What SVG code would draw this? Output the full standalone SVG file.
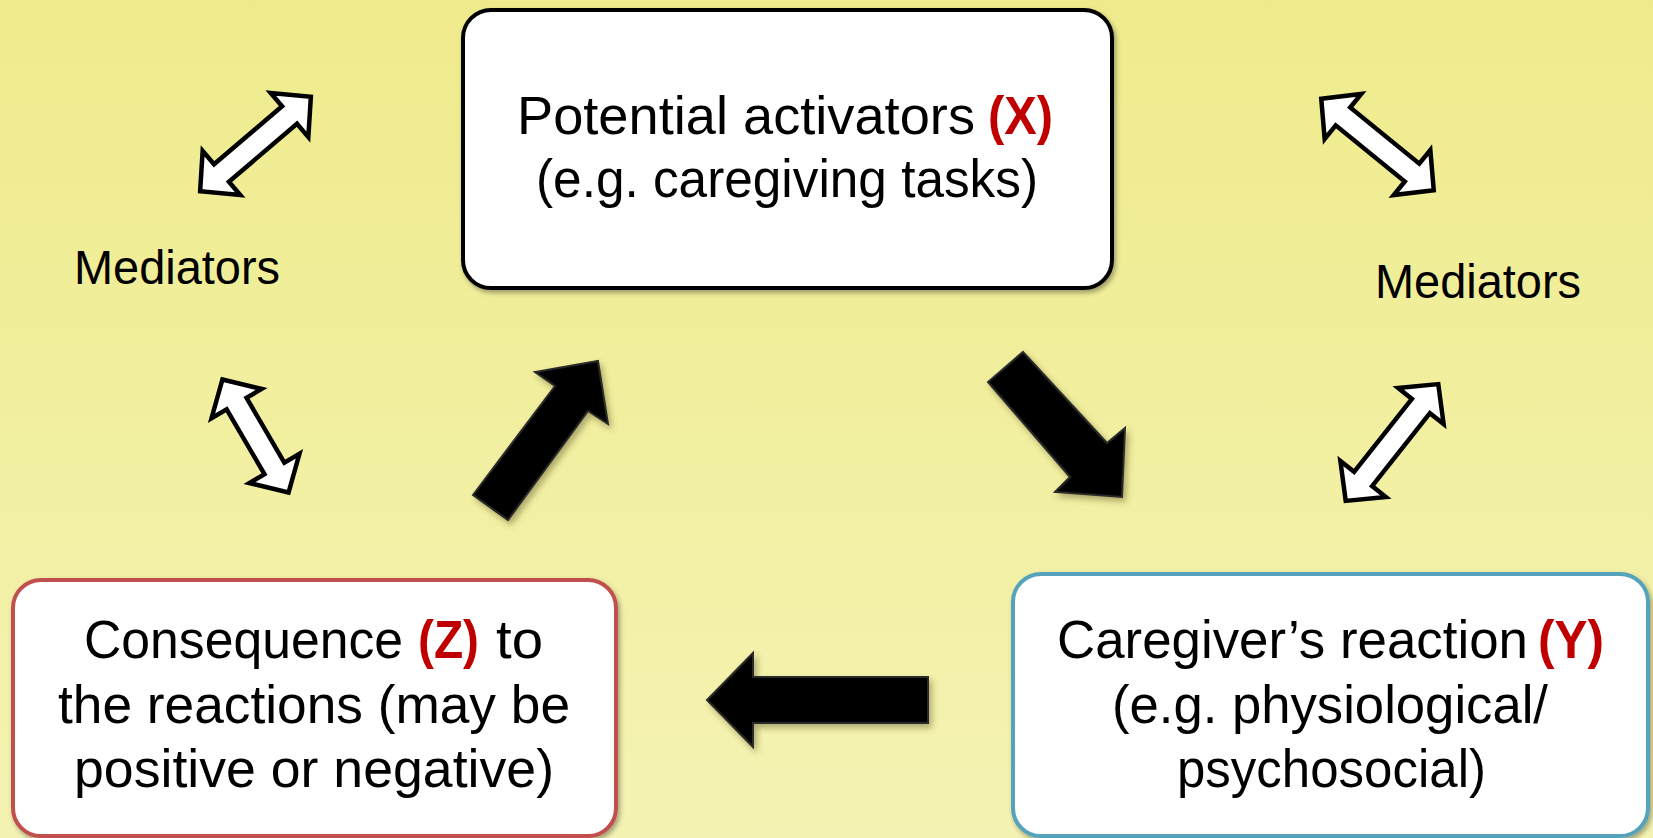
<svg xmlns="http://www.w3.org/2000/svg" width="1653" height="838" viewBox="0 0 1653 838">
<defs>
<linearGradient id="bg" x1="0" y1="0" x2="0" y2="1">
<stop offset="0" stop-color="#efeb8c"/>
<stop offset="1" stop-color="#f4f3b3"/>
</linearGradient>
<filter id="sh" x="-10%" y="-10%" width="130%" height="130%">
<feDropShadow dx="2" dy="3" stdDeviation="2.5" flood-color="#000" flood-opacity="0.35"/>
</filter>
<filter id="ash" x="-20%" y="-20%" width="150%" height="150%">
<feDropShadow dx="3" dy="4" stdDeviation="3" flood-color="#5a5520" flood-opacity="0.45"/>
</filter>
<style>
.box{fill:#fff;stroke-width:4}
.bt{font-family:"Liberation Sans","DejaVu Sans",sans-serif;font-size:53px;fill:#000}
.red{fill:#c00000;font-weight:bold}
.med{font-family:"Liberation Sans",Arial,sans-serif;font-size:48px;fill:#000}
.blk{fill:#060606;stroke:#2a2a2a;stroke-width:2;stroke-linejoin:miter;filter:url(#ash)}
.wht{fill:#fff;stroke:#000;stroke-width:4.5;stroke-linejoin:miter;stroke-miterlimit:10}
</style>
</defs>
<rect x="0" y="0" width="1653" height="838" fill="url(#bg)"/>

<g id="node-activators">
<rect class="box" x="463" y="10" width="649" height="278" rx="28" ry="28" stroke="#000" filter="url(#sh)"/>
<text class="bt" x="517" y="134" textLength="458" lengthAdjust="spacingAndGlyphs">Potential activators</text>
<text class="bt red" x="988" y="134" textLength="65" lengthAdjust="spacingAndGlyphs">(X)</text>
<text class="bt" x="536" y="197" textLength="502" lengthAdjust="spacingAndGlyphs">(e.g. caregiving tasks)</text>
</g>

<g id="node-reaction">
<rect class="box" x="1013" y="574" width="635" height="262" rx="28" ry="28" stroke="#55a3bb" filter="url(#sh)"/>
<text class="bt" x="1057" y="658" textLength="471" lengthAdjust="spacingAndGlyphs">Caregiver’s reaction</text>
<text class="bt red" x="1538" y="658" textLength="66" lengthAdjust="spacingAndGlyphs">(Y)</text>
<text class="bt" x="1112" y="723" textLength="436" lengthAdjust="spacingAndGlyphs">(e.g. physiological/</text>
<text class="bt" x="1177" y="787" textLength="309" lengthAdjust="spacingAndGlyphs">psychosocial)</text>
</g>

<g id="node-consequence">
<rect class="box" x="13" y="580" width="603" height="256" rx="28" ry="28" stroke="#c0504d" filter="url(#sh)"/>
<text class="bt" x="84" y="658" textLength="319" lengthAdjust="spacingAndGlyphs">Consequence</text>
<text class="bt red" x="418" y="658" textLength="61" lengthAdjust="spacingAndGlyphs">(Z)</text>
<text class="bt" x="496" y="658" textLength="47" lengthAdjust="spacingAndGlyphs">to</text>
<text class="bt" x="58" y="723" textLength="512" lengthAdjust="spacingAndGlyphs">the reactions (may be</text>
<text class="bt" x="74" y="787" textLength="480" lengthAdjust="spacingAndGlyphs">positive or negative)</text>
</g>

<g id="label-mediators-left">
<text class="med" x="74" y="284" textLength="206" lengthAdjust="spacingAndGlyphs">Mediators</text>
</g>
<g id="label-mediators-right">
<text class="med" x="1375" y="298" textLength="206" lengthAdjust="spacingAndGlyphs">Mediators</text>
</g>

<g id="connectors">
<polygon class="blk" points="473,495 555,386 535,372 598,361 608,424 588,411 508,520"/>
<polygon class="blk" points="1023,352 1107,443 1125,428 1122,497 1055,492 1070,477 988,382"/>
<polygon class="blk" points="928,677 753,677 753,653 707,700 753,747 753,723 928,723"/>

<polygon class="wht" transform="translate(255.5,144) rotate(-40.4)" points="-72.7,0 -44.7,-29 -44.7,-11.5 44.7,-11.5 44.7,-29 72.7,0 44.7,29 44.7,11.5 -44.7,11.5 -44.7,29"/>
<polygon class="wht" transform="translate(1377.5,144.5) rotate(39.1)" points="-72.5,0 -44.5,-29 -44.5,-11.5 44.5,-11.5 44.5,-29 72.5,0 44.5,29 44.5,11.5 -44.5,11.5 -44.5,29"/>
<polygon class="wht" transform="translate(1392,442.5) rotate(-51.6)" points="-74.5,0 -46.5,-29 -46.5,-11.5 46.5,-11.5 46.5,-29 74.5,0 46.5,29 46.5,11.5 -46.5,11.5 -46.5,29"/>
<polygon class="wht" transform="translate(255.5,436) rotate(59.7)" points="-65.5,0 -37.5,-29 -37.5,-11.5 37.5,-11.5 37.5,-29 65.5,0 37.5,29 37.5,11.5 -37.5,11.5 -37.5,29"/>
</g>
</svg>
